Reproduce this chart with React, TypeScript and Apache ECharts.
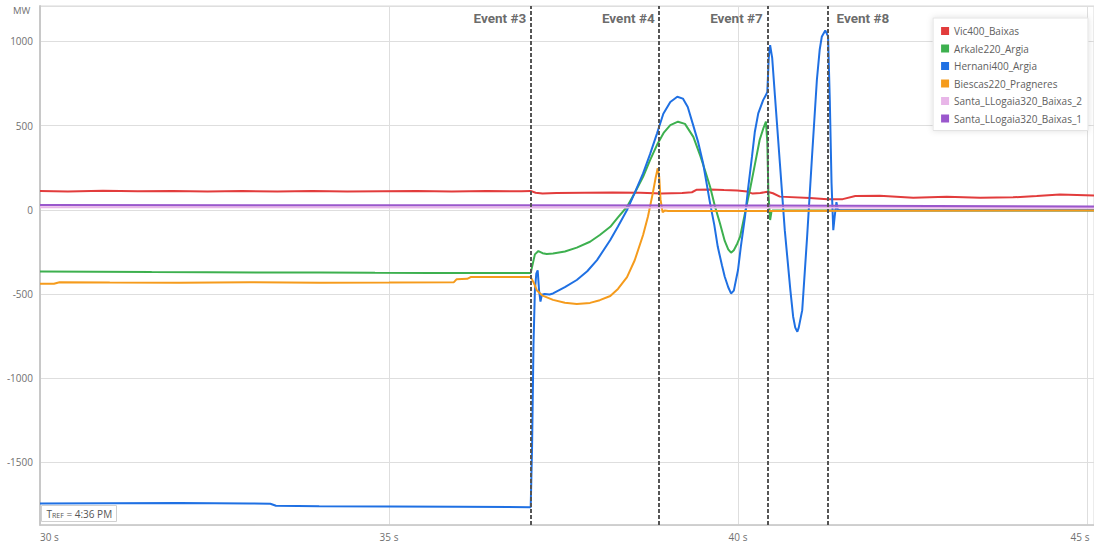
import React, { useEffect, useRef } from "react";
import * as echarts from "echarts";

const seriesNames = [
  "Vic400_Baixas",
  "Arkale220_Argia",
  "Hernani400_Argia",
  "Biescas220_Pragneres",
  "Santa_LLogaia320_Baixas_2",
  "Santa_LLogaia320_Baixas_1",
];

const vicData: number[][] = [
  [30.0, 112], [30.4, 109], [30.9, 113], [31.4, 110], [31.9, 111], [32.4, 108], [32.9, 111],
  [33.4, 109], [33.9, 111], [34.4, 108], [34.9, 110], [35.4, 112], [35.9, 109], [36.4, 111],
  [36.9, 110], [37.03, 112], [37.1, 101], [37.2, 96], [37.4, 99], [37.8, 101], [38.2, 102],
  [38.6, 101], [38.9, 97], [39.2, 99], [39.34, 104], [39.41, 119], [39.6, 120], [39.8, 117],
  [39.99, 115], [40.13, 108], [40.21, 96], [40.32, 99], [40.42, 107], [40.5, 98], [40.6, 78],
  [41.03, 70], [41.28, 62], [41.5, 63], [41.68, 82], [42.03, 83], [42.51, 72], [42.99, 77],
  [43.47, 71], [43.94, 74], [44.28, 81], [44.61, 90], [45.1, 84],
];

const arkaleData: number[][] = [
  [30.0, -367], [30.8, -368], [31.6, -370], [32.4, -371], [33.2, -372], [34.0, -372],
  [34.8, -374], [35.6, -375], [36.4, -375], [37.03, -376], [37.06, -320], [37.09, -265],
  [37.14, -245], [37.2, -258], [37.26, -263], [37.35, -260], [37.52, -248], [37.69, -225],
  [37.88, -190], [38.02, -150], [38.17, -101], [38.28, -45], [38.41, 18], [38.52, 100],
  [38.64, 196], [38.74, 295], [38.85, 394], [38.94, 460], [39.03, 503], [39.14, 523],
  [39.24, 510], [39.36, 433], [39.46, 320], [39.53, 230], [39.6, 137], [39.67, 20],
  [39.74, -79], [39.81, -185], [39.86, -235], [39.9, -255], [39.94, -240], [39.99, -200],
  [40.03, -160], [40.1, -20], [40.17, 117], [40.24, 265], [40.31, 414], [40.36, 480],
  [40.4, 523], [40.42, 400], [40.435, 100], [40.46, -61], [40.48, -10], [40.5, -4], [45.1, -4],
];

const hernaniData: number[][] = [
  [30.0, -1745], [31.0, -1743], [32.0, -1742], [33.0, -1744], [33.3, -1746], [33.38, -1758],
  [34.0, -1760], [35.0, -1762], [36.0, -1764], [37.03, -1766], [37.05, -1400], [37.07, -800],
  [37.09, -480], [37.11, -380], [37.13, -360], [37.15, -480], [37.17, -545], [37.19, -505],
  [37.23, -500], [37.3, -503], [37.35, -497], [37.52, -460], [37.69, -417], [37.84, -365],
  [37.98, -299], [38.17, -180], [38.28, -100], [38.41, -2], [38.52, 100], [38.64, 216],
  [38.74, 330], [38.84, 454], [38.93, 570], [39.03, 640], [39.13, 671], [39.21, 660],
  [39.28, 610], [39.35, 513], [39.43, 400], [39.5, 276], [39.6, 38], [39.66, -90],
  [39.71, -220], [39.77, -330], [39.81, -398], [39.86, -460], [39.9, -497], [39.94, -480],
  [40.0, -358], [40.04, -220], [40.1, -42], [40.14, 110], [40.2, 315], [40.24, 460],
  [40.29, 572], [40.36, 651], [40.4, 681], [40.42, 700], [40.44, 900], [40.46, 978],
  [40.49, 900], [40.53, 671], [40.6, 276], [40.67, -121], [40.75, -477], [40.79, -635],
  [40.82, -700], [40.85, -724], [40.87, -700], [40.92, -596], [40.99, -160], [41.06, 315],
  [41.13, 772], [41.17, 950], [41.2, 1027], [41.25, 1065], [41.29, 1030], [41.315, 650],
  [41.34, 157], [41.365, -121], [41.385, -40], [41.41, 45], [41.43, 0], [41.46, -3], [45.1, -3],
];

const biescasData: number[][] = [
  [30.0, -440], [30.2, -439], [30.28, -430], [31.0, -432], [32.0, -433], [33.0, -431],
  [34.0, -433], [35.0, -432], [35.93, -430], [35.97, -412], [36.12, -410], [36.17, -400],
  [37.03, -400], [37.07, -430], [37.12, -480], [37.2, -510], [37.35, -535], [37.52, -552],
  [37.69, -560], [37.88, -553], [38.02, -537], [38.17, -512], [38.28, -470], [38.41, -400],
  [38.52, -300], [38.64, -150], [38.71, -40], [38.78, 100], [38.82, 190], [38.85, 246],
  [38.87, 200], [38.89, 60], [38.92, -15], [38.95, -5], [39.0, -8], [45.1, -4],
];

const santa2Data: number[][] = [[30, 15], [37, 14], [41, 13], [45.1, 12]];
const santa1Data: number[][] = [[30, 28], [35, 27], [40, 25], [45.1, 20]];

const eventTimes = [37.03, 38.87, 40.42, 41.29];
const eventNames = ["Event #3", "Event #4", "Event #7", "Event #8"];

const X_MIN = 30;
const X_MAX = 45.1;
const Y_MIN = -1872;
const Y_MAX = 1210;

const allData = [vicData, arkaleData, hernaniData, biescasData, santa2Data, santa1Data];
const colors = ["#e23c3c", "#3db04f", "#1f70e3", "#f59b1c", "#e8b6e8", "#9a57cc"];

export default function App() {
  const ref = useRef<HTMLDivElement>(null);

  useEffect(() => {
    if (!ref.current) return;
    const chart = echarts.init(ref.current, null, { renderer: "svg" });
    const lineSeries = seriesNames.map((name, i) => ({
      name,
      type: "line",
      data: allData[i],
      showSymbol: false,
      symbol: "none",
      color: colors[i],
      lineStyle: { width: 2, color: colors[i] },
      emphasis: { disabled: true },
      silent: true,
    }));
    const eventLabelY = Y_MAX - 72;
    const eventSeries = {
      name: "events",
      type: "scatter",
      symbolSize: 1,
      itemStyle: { color: "rgba(0,0,0,0)" },
      silent: true,
      z: 5,
      data: eventTimes.map((t, i) => {
        const last = i === eventTimes.length - 1;
        return {
          value: [t, eventLabelY],
          name: eventNames[i],
          label: { position: last ? "right" : "left", distance: last ? 8 : 4 },
        };
      }),
      label: {
        show: true,
        formatter: "{b}",
        fontFamily: "Roboto",
        fontWeight: "bold",
        fontSize: 13.5,
        color: "#444",
      },
      markLine: {
        silent: true,
        symbol: ["none", "none"],
        label: { show: false },
        lineStyle: { color: "#555", type: [4, 2], width: 2 },
        data: eventTimes.map((t) => ({ xAxis: t })),
      },
    };

    const lastTick = Math.floor(X_MAX / 5) * 5;

    chart.setOption({
      animation: false,
      backgroundColor: "#fff",
      grid: {
        left: 40,
        right: 0,
        top: 6,
        bottom: 20,
        containLabel: false,
        outerBoundsMode: "none",
        show: true,
        borderColor: "#d8d8d8",
        borderWidth: 1,
      },
      legend: {
        data: seriesNames,
        orient: "vertical",
        right: 6,
        top: 18,
        icon: "rect",
        itemWidth: 8,
        itemHeight: 8,
        itemGap: 5.5,
        padding: [7, 6, 6, 8],
        backgroundColor: "#fff",
        borderColor: "#e3e3e3",
        borderWidth: 1,
        shadowBlur: 6,
        shadowColor: "rgba(0,0,0,0.12)",
        selectedMode: false,
        textStyle: { fontFamily: "Open Sans", fontSize: 10, color: "#606060", lineHeight: 12 },
      },
      xAxis: {
        type: "value",
        min: X_MIN,
        max: X_MAX,
        interval: 5,
        axisLine: { onZero: false, lineStyle: { color: "#c8c8c8", width: 1.5 } },
        axisTick: { show: false },
        axisLabel: {
          formatter: (v: number) => (v === lastTick ? `{r|${v} s}` : `${v} s`),
          rich: {
            r: { padding: [0, 14, 0, 0], color: "#707070", fontFamily: "Open Sans", fontSize: 10 },
          },
          showMaxLabel: false,
          alignMinLabel: "left",
          margin: 7,
          color: "#707070",
          fontFamily: "Open Sans",
          fontSize: 10,
        },
        splitLine: { show: true, lineStyle: { color: "#dedede", width: 1 } },
      },
      yAxis: {
        type: "value",
        min: Y_MIN,
        max: Y_MAX,
        splitNumber: 5,
        axisLine: { show: true, onZero: false, lineStyle: { color: "#c8c8c8", width: 2 } },
        axisTick: { show: false },
        axisLabel: {
          formatter: (v: number) => String(v),
          showMinLabel: false,
          showMaxLabel: false,
          margin: 7,
          color: "#707070",
          fontFamily: "Open Sans",
          fontSize: 10,
        },
        splitLine: { show: true, lineStyle: { color: "#dedede", width: 1 } },
      },
      graphic: [
        {
          type: "text",
          left: 13,
          top: 5,
          style: { text: "MW", fontSize: 9.5, fill: "#707070", fontFamily: "Open Sans" },
        },
        {
          type: "group",
          left: 41,
          top: 505,
          children: [
            {
              type: "rect",
              shape: { x: 0, y: 0, width: 75, height: 16 },
              style: { fill: "#fff", stroke: "#d0d0d0", lineWidth: 1 },
            },
            {
              type: "text",
              x: 5,
              y: 3,
              style: {
                text: "{a|T}{b|REF}{a| = 4:36 PM}",
                fill: "#555",
                rich: {
                  a: { fontSize: 10, fontFamily: "Open Sans", fill: "#555" },
                  b: { fontSize: 7, fontFamily: "Open Sans", fill: "#555", verticalAlign: "bottom" },
                },
              },
            },
          ],
        },
      ],
      series: [...lineSeries, eventSeries],
    });
    return () => chart.dispose();
  }, []);

  return (
    <div
      ref={ref}
      style={{ position: "absolute", left: 0, top: 0, width: 1094, height: 545 }}
    />
  );
}
